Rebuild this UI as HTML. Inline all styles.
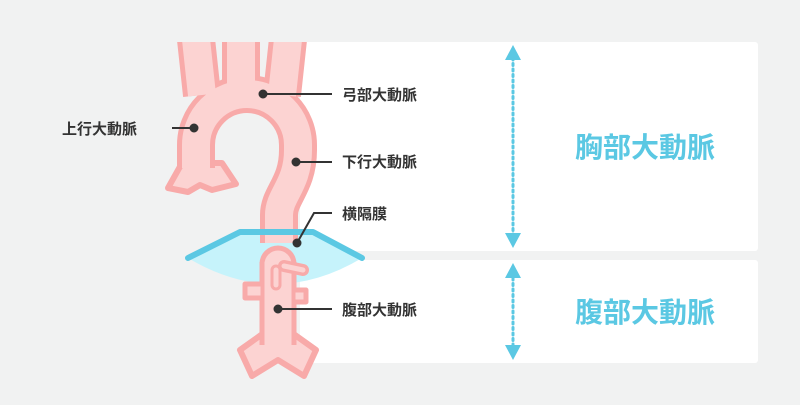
<!DOCTYPE html>
<html><head><meta charset="utf-8"><style>
html,body{margin:0;padding:0;background:#f1f2f2;}
svg{display:block;}
text{font-family:"Liberation Sans","Noto Sans CJK JP",sans-serif;font-weight:bold;}
</style></head><body>
<svg width="800" height="405" viewBox="0 0 800 405" xmlns="http://www.w3.org/2000/svg">
<defs><clipPath id="c"><rect x="0" y="42" width="800" height="363"/></clipPath></defs>
<rect x="0" y="0" width="800" height="405" fill="#f1f2f2"/>
<rect x="300" y="42" width="458" height="209" rx="3" fill="#fff"/>
<rect x="300" y="260" width="458" height="103" rx="3" fill="#fff"/>

<!-- diaphragm fill -->
<path d="M188,258 L240,232 L313,232 L362,258 Q275,310 188,258 Z" fill="#c6f3fb"/>

<!-- abdominal aorta -->
<g stroke-linejoin="round">
<polygon points="261,335 240,350 252,376 278,360 304,376 316,350 295,335" fill="#fcd3d2" stroke="#f8aaa9" stroke-width="6"/>
<path d="M278,262 L278,345" stroke="#f8aaa9" stroke-width="37" fill="none"/>
<circle cx="278" cy="264" r="18.5" fill="#f8aaa9"/>
<rect x="245" y="284" width="18" height="14" fill="#fcd3d2" stroke="#f8aaa9" stroke-width="5"/>
<rect x="293" y="290" width="13" height="12" fill="#fcd3d2" stroke="#f8aaa9" stroke-width="5"/>
<path d="M278,262 L278,345" stroke="#fcd3d2" stroke-width="27" fill="none"/>
<circle cx="278" cy="264" r="13.5" fill="#fcd3d2"/>
<path d="M284,266 L303,270" stroke="#f8aaa9" stroke-width="12" fill="none" stroke-linecap="round"/>
<path d="M284,266 L303,270" stroke="#fcd3d2" stroke-width="5" fill="none" stroke-linecap="round"/>
<path d="M276,270 L276,285" stroke="#f8aaa9" stroke-width="11" stroke-linecap="round"/>
<path d="M276,270 L276,285" stroke="#fcd3d2" stroke-width="5" stroke-linecap="round"/>
</g>

<!-- thoracic aorta -->
<g clip-path="url(#c)" fill="none" stroke-linecap="butt">
<polygon points="182,163 168,188 188,192 200,185 212,190 236,184 222,163" fill="#fcd3d2" stroke="#f8aaa9" stroke-width="6" stroke-linejoin="round"/>
<g stroke="#f8aaa9" stroke-width="38">
<path d="M202,95 L195,30"/><path d="M241,85 L241,30"/><path d="M282,95 L289,30"/>
<path d="M196,168 L196,145 A51 51 0 0 1 298,145 L298,150 C298,185 279,195 279,215 L279,243"/>
</g>
<g stroke="#fcd3d2" stroke-width="28">
<path d="M202,95 L195,30"/><path d="M241,85 L241,30"/><path d="M282,95 L289,30"/>
<path d="M196,168 L196,145 A51 51 0 0 1 298,145 L298,150 C298,185 279,195 279,215 L279,243"/>
</g>
</g>
<path d="M188,258 L240,232 L313,232 L362,258" fill="none" stroke="#5bc8e3" stroke-width="6" stroke-linejoin="round" stroke-linecap="round"/>

<!-- leaders -->
<g stroke="#333" stroke-width="2" fill="#333">
<line x1="263" y1="94" x2="332" y2="94"/><circle cx="263" cy="94" r="3.5"/>
<line x1="172" y1="128" x2="194" y2="128"/><circle cx="194" cy="128" r="3.5"/>
<line x1="296" y1="162" x2="332" y2="162"/><circle cx="296" cy="162" r="3.5"/>
<polyline points="297,243 314,213 332,213" fill="none"/><circle cx="297" cy="243" r="3.5"/>
<line x1="278" y1="309" x2="332" y2="309"/><circle cx="278" cy="309" r="3.5"/>
</g>
<g font-size="15" fill="#333">
<text x="342" y="100">弓部大動脈</text>
<text x="62" y="134">上行大動脈</text>
<text x="342" y="167">下行大動脈</text>
<text x="342" y="219">横隔膜</text>
<text x="342" y="315">腹部大動脈</text>
</g>

<!-- arrows -->
<g fill="#5bc8e3">
<line x1="513" y1="58" x2="513" y2="235" stroke="#5bc8e3" stroke-width="3" stroke-dasharray="2,3.5" stroke-linecap="round"/>
<polygon points="513,45 505,60 521,60"/><polygon points="513,248 505,233 521,233"/>
<line x1="513" y1="278" x2="513" y2="346" stroke="#5bc8e3" stroke-width="3" stroke-dasharray="2,3.5" stroke-linecap="round"/>
<polygon points="513,263 505,278 521,278"/><polygon points="513,360 505,345 521,345"/>
</g>
<g font-size="28" fill="#5bc8e3">
<text x="575" y="157">胸部大動脈</text>
<text x="575" y="322">腹部大動脈</text>
</g>
</svg>
</body></html>
